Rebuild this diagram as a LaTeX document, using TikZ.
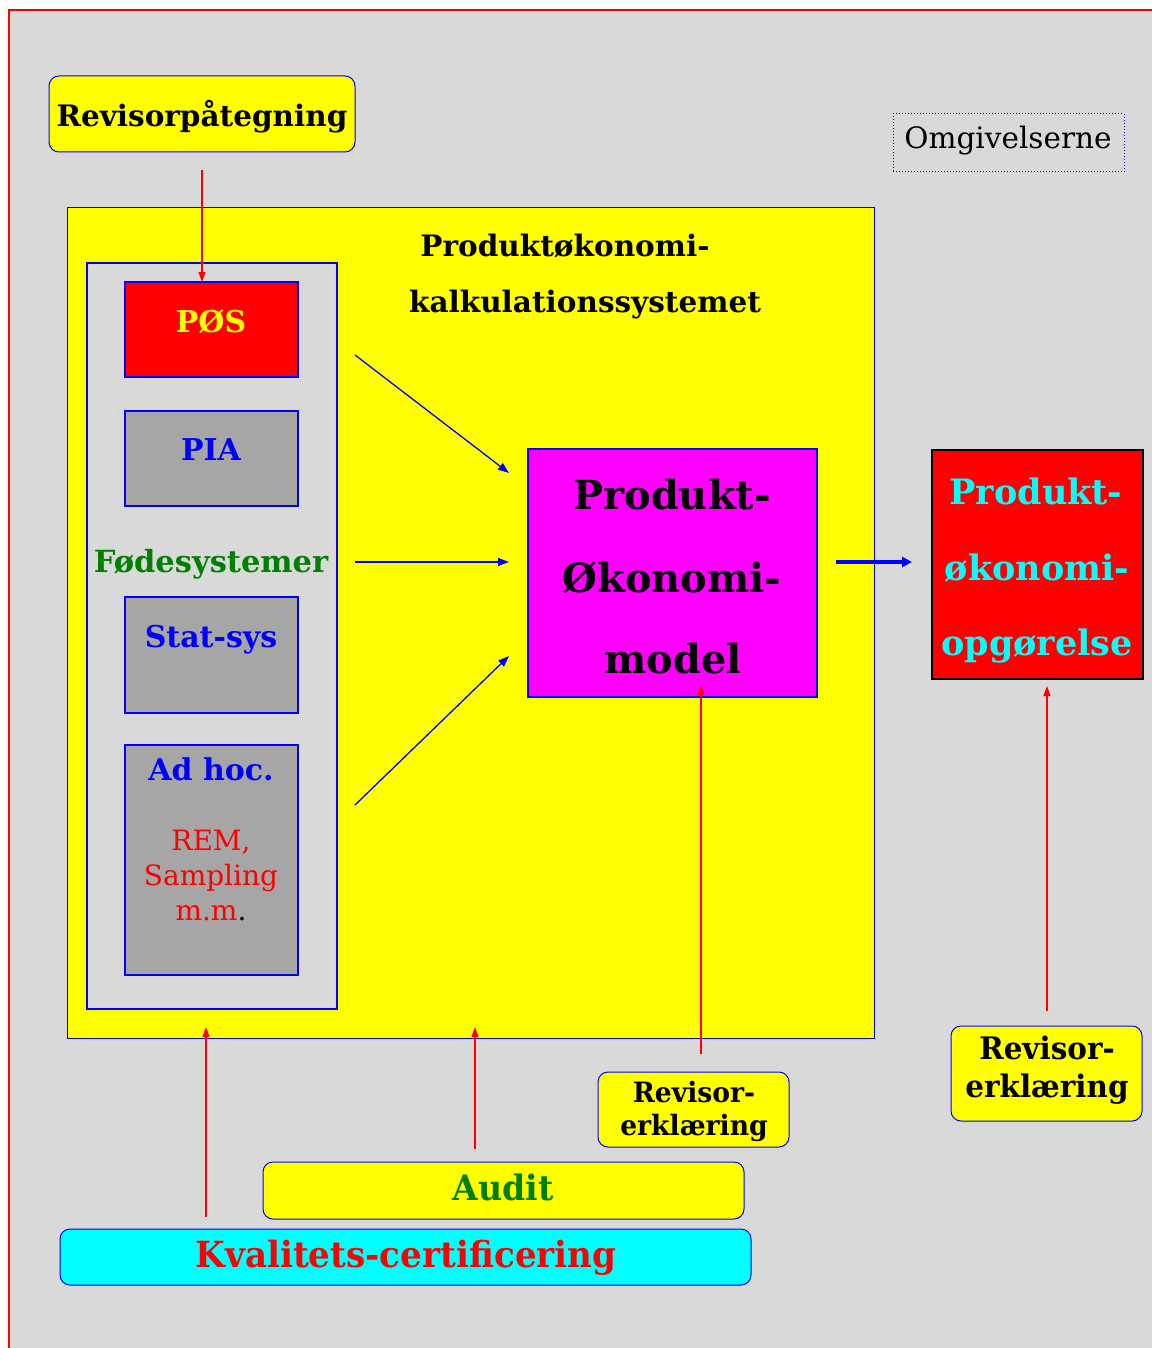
\documentclass[tikz,border=0pt]{standalone}
\usepackage{fontspec}
\setmainfont{DejaVu Serif}
\newfontfamily\djc[FakeStretch=0.95]{DejaVu Serif}
\usetikzlibrary{arrows.meta}
\definecolor{bg}{RGB}{217,217,217}
\definecolor{dg}{RGB}{166,166,166}
\definecolor{gr}{RGB}{0,128,0}
\definecolor{yel}{RGB}{255,255,0}
\definecolor{mag}{RGB}{255,0,255}
\definecolor{cya}{RGB}{0,255,255}
\definecolor{rd}{RGB}{255,0,0}
\definecolor{bl}{RGB}{0,0,255}
\newcommand{\fs}[1]{\fontsize{#1}{#1}\selectfont}
\tikzset{
  box/.style={inner sep=0pt, outer sep=0pt},
  ybox/.style={box, draw=bl, fill=yel, rounded corners=10pt, line width=1pt},
  sbox/.style={box, draw=bl, fill=dg, line width=2pt},
  txt/.style={inner sep=0pt, anchor=base},
  redarr/.style={draw=rd, line width=1.2pt, -{Triangle[length=10pt,width=7pt]}},
  bluearr/.style={draw=bl, line width=1.3pt, -{Triangle[length=11pt,width=8pt]}},
}
\begin{document}
\begin{tikzpicture}[x=1pt,y=-1pt]
\useasboundingbox (0,0) rectangle (1151,1348);
% background frame
\fill[bg] (9,10) rectangle (1160,1360);
\draw[rd, line width=1.2pt] (9,1360) -- (9,10) -- (1160,10);

% top label
\node[ybox, minimum width=306pt, minimum height=76pt] (rev) at (202,114) {};
\node[txt] (revt) at (202,127) {\fs{29.5}\bfseries Revisorpåtegning};

% environment
\node[box, draw=bl, dotted, line width=1pt, minimum width=231pt, minimum height=58pt] (omg) at (1008.5,143) {};
\node[txt] (omgt) at (1008,149) {\fs{29.5}Omgivelserne};

% big yellow system
\node[box, draw=bl, fill=yel, line width=1pt, minimum width=807pt, minimum height=830pt] (sys) at (470.5,623) {};
\node[txt] (t1) at (565,257) {\fs{29.5}\bfseries Produktøkonomi-};
\node[txt] (t2) at (585,312) {\fs{29.5}\bfseries kalkulationssystemet};

% feeder column
\node[box, draw=bl, fill=bg, line width=2.5pt, minimum width=250pt, minimum height=746pt] (feed) at (212,636) {};
\node[box, draw=bl, fill=rd, line width=2pt, minimum width=173pt, minimum height=95pt] (pos) at (211.5,329.5) {};
\node[txt] (post) at (211,332) {\fs{30}\bfseries\color{yel}PØS};
\node[sbox, minimum width=173pt, minimum height=95pt] (pia) at (211.5,458.5) {};
\node[txt] (piat) at (211,460) {\fs{30}\bfseries\color{bl}PIA};
\node[txt] (fode) at (211,572) {\fs{30.5}\bfseries\color{gr}Fødesystemer};
\node[sbox, minimum width=173pt, minimum height=116pt] (stat) at (211.5,655) {};
\node[txt] (statt) at (211,647) {\fs{30}\bfseries\color{bl}Stat-sys};
\node[sbox, minimum width=173pt, minimum height=230pt] (adh) at (211.5,860) {};
\node[txt] (adht) at (211,780) {\fs{30}\bfseries\color{bl}Ad hoc.};
\node[txt] (rem1) at (211,850) {\fs{28}\color{rd}REM,};
\node[txt] (rem2) at (211,885) {\fs{28}\color{rd}Sampling};
\node[txt] (rem3) at (211,920) {\fs{28}{\color{rd}m.m}\color{black}.};

% model
\node[box, draw=bl, fill=mag, line width=2pt, minimum width=289pt, minimum height=248pt] (mod) at (672.5,573) {};
\node[txt] (m1) at (672,509) {\fs{40}\bfseries Produkt-};
\node[txt] (m2) at (672,592) {\fs{40}\bfseries Økonomi-};
\node[txt] (m3) at (673,673) {\fs{40}\bfseries model};

% result
\node[box, draw=black, fill=rd, line width=2pt, minimum width=211pt, minimum height=229pt] (res) at (1037.5,564.5) {};
\node[txt] (r1) at (1036,504) {\fs{35}\bfseries\color{cya}Produkt-};
\node[txt] (r2) at (1037,580) {\fs{35}\bfseries\color{cya}økonomi-};
\node[txt] (r3) at (1037,655) {\fs{35}\bfseries\color{cya}opgørelse};

% lower labels
\node[ybox, minimum width=191pt, minimum height=95pt] (rer) at (1046.5,1073.5) {};
\node[txt] (rer1) at (1047,1059) {\djc\fs{31}\bfseries Revisor-};
\node[txt] (rer2) at (1047,1097) {\djc\fs{31}\bfseries erklæring};
\node[ybox, minimum width=191pt, minimum height=75pt] (rem) at (693.5,1109.5) {};
\node[txt] (rem1t) at (694,1102) {\djc\fs{28}\bfseries Revisor-};
\node[txt] (rem2t) at (694,1135) {\djc\fs{28}\bfseries erklæring};
\node[ybox, minimum width=481pt, minimum height=57pt] (aud) at (503.5,1190.5) {};
\node[txt] (audt) at (503,1200) {\djc\fs{35}\bfseries\color{gr}Audit};
\node[box, draw=bl, fill=cya, rounded corners=10pt, line width=1pt, minimum width=691pt, minimum height=56pt] (kval) at (405.5,1257) {};
\node[txt] (kvalt) at (406,1267) {\djc\fs{36}\bfseries\color{rd}Kvalitets-certificering};

% connectors
\coordinate (a0) at (202,170);
\draw[redarr] (a0) -- (a0 |- pos.north);
\coordinate (b1) at (355,355);
\coordinate (b1e) at (509,473);
\draw[bluearr] (b1) -- (b1e);
\coordinate (b2) at (355,562);
\coordinate (b2e) at (509,562);
\draw[bluearr] (b2) -- (b2e);
\coordinate (b3) at (355,805);
\coordinate (b3e) at (509,656);
\draw[bluearr] (b3) -- (b3e);
\coordinate (c0) at (836,562);
\coordinate (c1) at (912,562);
\draw[draw=bl, line width=4pt, -{Triangle[length=10pt,width=10pt]}] (c0) -- (c1);
\coordinate (d0) at (1047,1011);
\coordinate (d1) at (1047,686);
\draw[redarr] (d0) -- (d1);
\coordinate (e0) at (701,1054);
\coordinate (e1) at (701,685);
\draw[redarr] (e0) -- (e1);
\coordinate (f0) at (475,1149);
\coordinate (f1) at (475,1027);
\draw[redarr] (f0) -- (f1);
\coordinate (g0) at (206,1217);
\coordinate (g1) at (206,1027);
\draw[redarr] (g0) -- (g1);
\end{tikzpicture}
\end{document}
